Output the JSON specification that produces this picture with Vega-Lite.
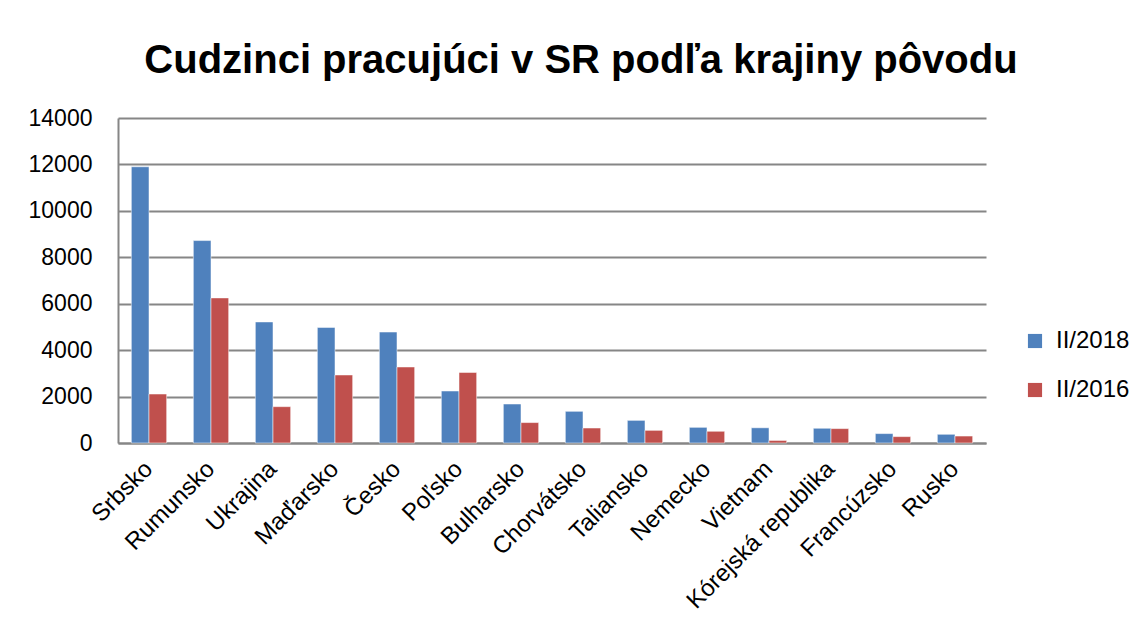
{
  "$schema": "https://vega.github.io/schema/vega-lite/v6.json",
  "width": 868,
  "height": 325,
  "autosize": "none",
  "padding": {"left": 118, "top": 118, "right": 156, "bottom": 194},
  "background": "white",
  "title": {
    "text": "Cudzinci pracujúci v SR podľa krajiny pôvodu",
    "font": "Liberation Sans",
    "fontSize": 40,
    "fontWeight": "bold",
    "color": "black",
    "anchor": "middle",
    "frame": "group",
    "baseline": "alphabetic",
    "offset": 36,
    "dx": 29,
    "dy": 42
  },
  "data": {
    "values": [
      {"krajina": "Srbsko", "obdobie": "II/2018", "pocet": 11900},
      {"krajina": "Srbsko", "obdobie": "II/2016", "pocet": 2110},
      {"krajina": "Rumunsko", "obdobie": "II/2018", "pocet": 8720},
      {"krajina": "Rumunsko", "obdobie": "II/2016", "pocet": 6250},
      {"krajina": "Ukrajina", "obdobie": "II/2018", "pocet": 5215},
      {"krajina": "Ukrajina", "obdobie": "II/2016", "pocet": 1565},
      {"krajina": "Maďarsko", "obdobie": "II/2018", "pocet": 4980},
      {"krajina": "Maďarsko", "obdobie": "II/2016", "pocet": 2930},
      {"krajina": "Česko", "obdobie": "II/2018", "pocet": 4780},
      {"krajina": "Česko", "obdobie": "II/2016", "pocet": 3275},
      {"krajina": "Poľsko", "obdobie": "II/2018", "pocet": 2240},
      {"krajina": "Poľsko", "obdobie": "II/2016", "pocet": 3040},
      {"krajina": "Bulharsko", "obdobie": "II/2018", "pocet": 1680},
      {"krajina": "Bulharsko", "obdobie": "II/2016", "pocet": 880},
      {"krajina": "Chorvátsko", "obdobie": "II/2018", "pocet": 1365},
      {"krajina": "Chorvátsko", "obdobie": "II/2016", "pocet": 645},
      {"krajina": "Taliansko", "obdobie": "II/2018", "pocet": 975},
      {"krajina": "Taliansko", "obdobie": "II/2016", "pocet": 545},
      {"krajina": "Nemecko", "obdobie": "II/2018", "pocet": 675},
      {"krajina": "Nemecko", "obdobie": "II/2016", "pocet": 505},
      {"krajina": "Vietnam", "obdobie": "II/2018", "pocet": 655},
      {"krajina": "Vietnam", "obdobie": "II/2016", "pocet": 110},
      {"krajina": "Kórejská republika", "obdobie": "II/2018", "pocet": 635},
      {"krajina": "Kórejská republika", "obdobie": "II/2016", "pocet": 620},
      {"krajina": "Francúzsko", "obdobie": "II/2018", "pocet": 405},
      {"krajina": "Francúzsko", "obdobie": "II/2016", "pocet": 275},
      {"krajina": "Rusko", "obdobie": "II/2018", "pocet": 375},
      {"krajina": "Rusko", "obdobie": "II/2016", "pocet": 300}
    ]
  },
  "mark": {"type": "bar", "stroke": "white", "strokeOpacity": 0.5, "strokeWidth": 1},
  "encoding": {
    "x": {
      "field": "krajina",
      "type": "nominal",
      "sort": null,
      "scale": {"paddingInner": 0.43, "paddingOuter": 0.215},
      "axis": {
        "title": null,
        "labelAngle": -45,
        "labelAlign": "right",
        "labelBaseline": "middle",
        "labelPadding": 22,
        "labelLimit": 400,
        "ticks": false,
        "domainColor": "#868686",
        "domainWidth": 2,
        "labelFont": "Liberation Sans",
        "labelFontSize": 24,
        "labelColor": "black"
      }
    },
    "xOffset": {"field": "obdobie", "type": "nominal", "sort": ["II/2018", "II/2016"]},
    "y": {
      "field": "pocet",
      "type": "quantitative",
      "scale": {"domain": [0, 14000]},
      "axis": {
        "title": null,
        "values": [0, 2000, 4000, 6000, 8000, 10000, 12000, 14000],
        "format": "d",
        "ticks": false,
        "labelPadding": 26,
        "domainColor": "#868686",
        "domainWidth": 2,
        "gridColor": "#868686",
        "gridWidth": 2,
        "labelFont": "Liberation Sans",
        "labelFontSize": 23,
        "labelColor": "black"
      }
    },
    "color": {
      "field": "obdobie",
      "type": "nominal",
      "sort": ["II/2018", "II/2016"],
      "scale": {"domain": ["II/2018", "II/2016"], "range": ["#4F81BD", "#C0504D"]},
      "legend": {
        "title": null,
        "orient": "none",
        "legendX": 905,
        "legendY": 211,
        "symbolType": "square",
        "symbolSize": 200,
        "symbolStrokeWidth": 0,
        "labelFont": "Liberation Sans",
        "labelFontSize": 24,
        "labelColor": "black",
        "rowPadding": 25,
        "labelOffset": 9
      }
    }
  },
  "config": {"view": {"stroke": null}}
}
